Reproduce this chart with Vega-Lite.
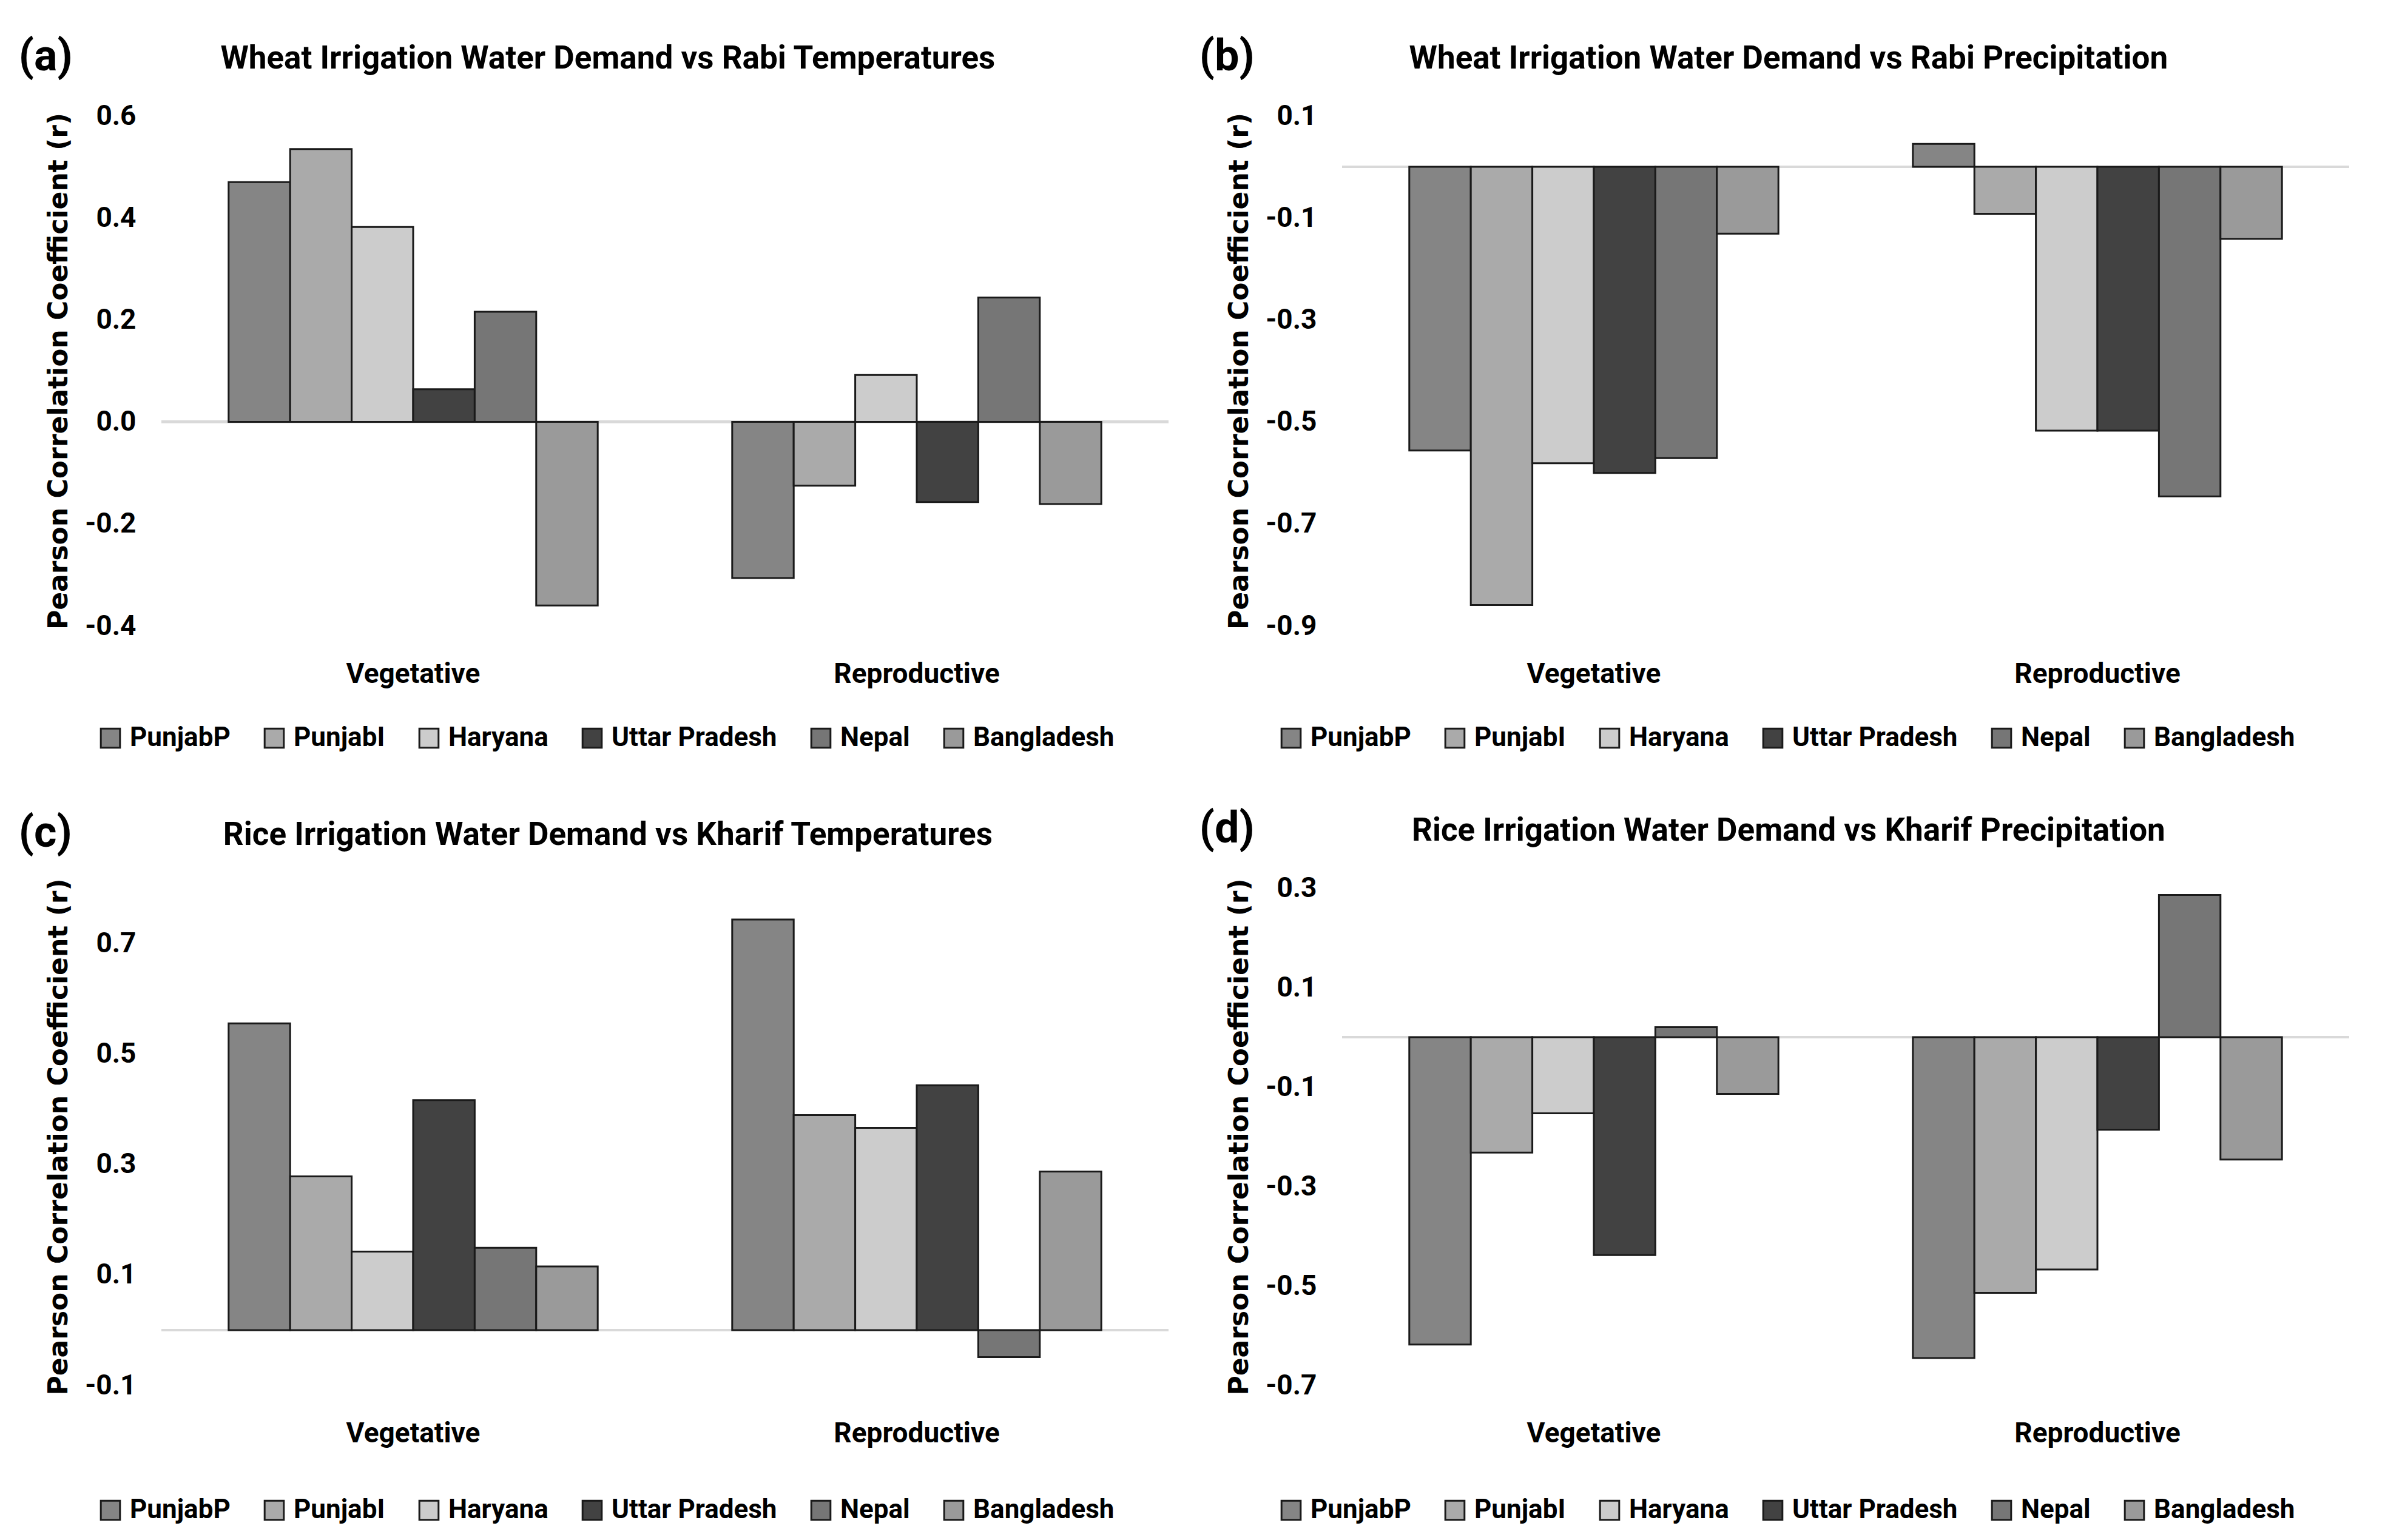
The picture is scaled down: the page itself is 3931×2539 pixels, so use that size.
{
  "$schema": "https://vega.github.io/schema/vega-lite/v6.json",
  "padding": {"left": 30, "top": 58, "right": 40, "bottom": 20},
  "background": "white",
  "data": {"values": [
    {"panel": "a", "stage": "Vegetative", "region": "PunjabP", "r": 0.47},
    {"panel": "a", "stage": "Vegetative", "region": "PunjabI", "r": 0.535},
    {"panel": "a", "stage": "Vegetative", "region": "Haryana", "r": 0.382},
    {"panel": "a", "stage": "Vegetative", "region": "Uttar Pradesh", "r": 0.064},
    {"panel": "a", "stage": "Vegetative", "region": "Nepal", "r": 0.216},
    {"panel": "a", "stage": "Vegetative", "region": "Bangladesh", "r": -0.36},
    {"panel": "a", "stage": "Reproductive", "region": "PunjabP", "r": -0.306},
    {"panel": "a", "stage": "Reproductive", "region": "PunjabI", "r": -0.125},
    {"panel": "a", "stage": "Reproductive", "region": "Haryana", "r": 0.092},
    {"panel": "a", "stage": "Reproductive", "region": "Uttar Pradesh", "r": -0.157},
    {"panel": "a", "stage": "Reproductive", "region": "Nepal", "r": 0.244},
    {"panel": "a", "stage": "Reproductive", "region": "Bangladesh", "r": -0.161},
    {"panel": "b", "stage": "Vegetative", "region": "PunjabP", "r": -0.556},
    {"panel": "b", "stage": "Vegetative", "region": "PunjabI", "r": -0.859},
    {"panel": "b", "stage": "Vegetative", "region": "Haryana", "r": -0.581},
    {"panel": "b", "stage": "Vegetative", "region": "Uttar Pradesh", "r": -0.6},
    {"panel": "b", "stage": "Vegetative", "region": "Nepal", "r": -0.571},
    {"panel": "b", "stage": "Vegetative", "region": "Bangladesh", "r": -0.131},
    {"panel": "b", "stage": "Reproductive", "region": "PunjabP", "r": 0.045},
    {"panel": "b", "stage": "Reproductive", "region": "PunjabI", "r": -0.092},
    {"panel": "b", "stage": "Reproductive", "region": "Haryana", "r": -0.517},
    {"panel": "b", "stage": "Reproductive", "region": "Uttar Pradesh", "r": -0.517},
    {"panel": "b", "stage": "Reproductive", "region": "Nepal", "r": -0.646},
    {"panel": "b", "stage": "Reproductive", "region": "Bangladesh", "r": -0.141},
    {"panel": "c", "stage": "Vegetative", "region": "PunjabP", "r": 0.555},
    {"panel": "c", "stage": "Vegetative", "region": "PunjabI", "r": 0.278},
    {"panel": "c", "stage": "Vegetative", "region": "Haryana", "r": 0.142},
    {"panel": "c", "stage": "Vegetative", "region": "Uttar Pradesh", "r": 0.416},
    {"panel": "c", "stage": "Vegetative", "region": "Nepal", "r": 0.149},
    {"panel": "c", "stage": "Vegetative", "region": "Bangladesh", "r": 0.115},
    {"panel": "c", "stage": "Reproductive", "region": "PunjabP", "r": 0.743},
    {"panel": "c", "stage": "Reproductive", "region": "PunjabI", "r": 0.389},
    {"panel": "c", "stage": "Reproductive", "region": "Haryana", "r": 0.366},
    {"panel": "c", "stage": "Reproductive", "region": "Uttar Pradesh", "r": 0.443},
    {"panel": "c", "stage": "Reproductive", "region": "Nepal", "r": -0.049},
    {"panel": "c", "stage": "Reproductive", "region": "Bangladesh", "r": 0.287},
    {"panel": "d", "stage": "Vegetative", "region": "PunjabP", "r": -0.618},
    {"panel": "d", "stage": "Vegetative", "region": "PunjabI", "r": -0.232},
    {"panel": "d", "stage": "Vegetative", "region": "Haryana", "r": -0.153},
    {"panel": "d", "stage": "Vegetative", "region": "Uttar Pradesh", "r": -0.438},
    {"panel": "d", "stage": "Vegetative", "region": "Nepal", "r": 0.02},
    {"panel": "d", "stage": "Vegetative", "region": "Bangladesh", "r": -0.114},
    {"panel": "d", "stage": "Reproductive", "region": "PunjabP", "r": -0.645},
    {"panel": "d", "stage": "Reproductive", "region": "PunjabI", "r": -0.514},
    {"panel": "d", "stage": "Reproductive", "region": "Haryana", "r": -0.467},
    {"panel": "d", "stage": "Reproductive", "region": "Uttar Pradesh", "r": -0.186},
    {"panel": "d", "stage": "Reproductive", "region": "Nepal", "r": 0.286},
    {"panel": "d", "stage": "Reproductive", "region": "Bangladesh", "r": -0.246}
  ]},
  "config": {
    "font": "Roboto",
    "view": {"stroke": null},
    "axis": {"labelFont": "Roboto", "labelFontWeight": "bold", "labelFontSize": 46, "labelColor": "#000000", "labelLimit": 0, "ticks": false, "domain": false, "titleColor": "#000000"},
    "axisY": {"gridColor": "#d9d9d9", "gridWidth": 4, "labelPadding": 42, "titleFont": "DejaVu Sans", "titleFontSize": 44, "titleFontWeight": "bold", "titlePadding": 20},
    "axisX": {"grid": false, "labelPadding": 57, "labelAngle": 0},
    "legend": {"orient": "none", "legendX": -106, "legendY": 1004, "direction": "horizontal", "title": null, "symbolType": "square", "symbolSize": 1000, "symbolStrokeColor": "#1a1a1a", "symbolStrokeWidth": 3, "symbolOpacity": 1, "labelFont": "Roboto", "labelFontWeight": "bold", "labelFontSize": 44, "labelColor": "#000000", "labelLimit": 0, "columnPadding": 50, "labelOffset": 10},
    "title": {"font": "Roboto", "fontWeight": "bold", "fontSize": 53, "color": "#000000"},
    "bar": {"stroke": "#1a1a1a", "strokeWidth": 3}
  },
  "columns": 2,
  "spacing": {"row": 92, "column": 48},
  "resolve": {"scale": {"fill": "independent", "y": "independent", "x": "independent"}, "legend": {"fill": "independent"}},
  "concat": [
    {
      "title": {"text": "(a)", "anchor": "start", "frame": "bounds", "fontSize": 72, "dy": 60, "dx": -45, "offset": 0},
      "resolve": {"scale": {"fill": "independent"}},
      "vconcat": [{
        "width": 1660, "height": 841,
        "title": {"text": "Wheat Irrigation Water Demand vs Rabi Temperatures", "anchor": "middle", "frame": "bounds", "offset": 44},
        "transform": [{"filter": "datum.panel === 'a'"}],
        "layer": [
          {"mark": {"type": "rule", "color": "#d9d9d9", "strokeWidth": 4}, "encoding": {"y": {"datum": 0, "type": "quantitative"}}},
          {"mark": {"type": "bar"},
           "encoding": {
             "x": {"field": "stage", "type": "nominal", "sort": ["Vegetative", "Reproductive"], "scale": {"paddingInner": 0.267, "paddingOuter": 0.1335}, "axis": {"title": null}},
             "xOffset": {"field": "region", "type": "nominal", "sort": ["PunjabP", "PunjabI", "Haryana", "Uttar Pradesh", "Nepal", "Bangladesh"], "scale": {"paddingInner": 0, "paddingOuter": 0}},
             "y": {"field": "r", "type": "quantitative", "scale": {"domain": [-0.4, 0.6], "nice": false, "zero": false}, "axis": {"values": [-0.4, -0.2, 0, 0.2, 0.4, 0.6], "labelExpr": "replace(format(datum.value, '.1f'), '\u2212', '-')", "title": "Pearson Correlation Coefficient (r)"}},
             "fill": {"field": "region", "type": "nominal", "scale": {"domain": ["PunjabP", "PunjabI", "Haryana", "Uttar Pradesh", "Nepal", "Bangladesh"], "range": ["#858585", "#aaaaaa", "#cccccc", "#424242", "#767676", "#9a9a9a"]}}
           }}
        ]
      }]
    },
    {
      "title": {"text": "(b)", "anchor": "start", "frame": "bounds", "fontSize": 72, "dy": 60, "dx": -45, "offset": 0},
      "resolve": {"scale": {"fill": "independent"}},
      "vconcat": [{
        "width": 1660, "height": 841,
        "title": {"text": "Wheat Irrigation Water Demand vs Rabi Precipitation", "anchor": "middle", "frame": "bounds", "offset": 44},
        "transform": [{"filter": "datum.panel === 'b'"}],
        "layer": [
          {"mark": {"type": "rule", "color": "#d9d9d9", "strokeWidth": 4}, "encoding": {"y": {"datum": 0, "type": "quantitative"}}},
          {"mark": {"type": "bar"},
           "encoding": {
             "x": {"field": "stage", "type": "nominal", "sort": ["Vegetative", "Reproductive"], "scale": {"paddingInner": 0.267, "paddingOuter": 0.1335}, "axis": {"title": null}},
             "xOffset": {"field": "region", "type": "nominal", "sort": ["PunjabP", "PunjabI", "Haryana", "Uttar Pradesh", "Nepal", "Bangladesh"], "scale": {"paddingInner": 0, "paddingOuter": 0}},
             "y": {"field": "r", "type": "quantitative", "scale": {"domain": [-0.9, 0.1], "nice": false, "zero": false}, "axis": {"values": [-0.9, -0.7, -0.5, -0.3, -0.1, 0.1], "labelExpr": "replace(format(datum.value, '.1f'), '\u2212', '-')", "title": "Pearson Correlation Coefficient (r)"}},
             "fill": {"field": "region", "type": "nominal", "scale": {"domain": ["PunjabP", "PunjabI", "Haryana", "Uttar Pradesh", "Nepal", "Bangladesh"], "range": ["#858585", "#aaaaaa", "#cccccc", "#424242", "#767676", "#9a9a9a"]}}
           }}
        ]
      }]
    },
    {
      "title": {"text": "(c)", "anchor": "start", "frame": "bounds", "fontSize": 72, "dy": 60, "dx": -45, "offset": 0},
      "resolve": {"scale": {"fill": "independent"}},
      "vconcat": [{
        "width": 1660, "height": 820,
        "title": {"text": "Rice Irrigation Water Demand vs Kharif Temperatures", "anchor": "middle", "frame": "bounds", "offset": 44},
        "transform": [{"filter": "datum.panel === 'c'"}],
        "layer": [
          {"mark": {"type": "rule", "color": "#d9d9d9", "strokeWidth": 4}, "encoding": {"y": {"datum": 0, "type": "quantitative"}}},
          {"mark": {"type": "bar"},
           "encoding": {
             "x": {"field": "stage", "type": "nominal", "sort": ["Vegetative", "Reproductive"], "scale": {"paddingInner": 0.267, "paddingOuter": 0.1335}, "axis": {"title": null}},
             "xOffset": {"field": "region", "type": "nominal", "sort": ["PunjabP", "PunjabI", "Haryana", "Uttar Pradesh", "Nepal", "Bangladesh"], "scale": {"paddingInner": 0, "paddingOuter": 0}},
             "y": {"field": "r", "type": "quantitative", "scale": {"domain": [-0.1, 0.8], "nice": false, "zero": false}, "axis": {"values": [-0.1, 0.1, 0.3, 0.5, 0.7], "labelExpr": "replace(format(datum.value, '.1f'), '\u2212', '-')", "title": "Pearson Correlation Coefficient (r)"}},
             "fill": {"field": "region", "type": "nominal", "scale": {"domain": ["PunjabP", "PunjabI", "Haryana", "Uttar Pradesh", "Nepal", "Bangladesh"], "range": ["#858585", "#aaaaaa", "#cccccc", "#424242", "#767676", "#9a9a9a"]}}
           }}
        ]
      }]
    },
    {
      "title": {"text": "(d)", "anchor": "start", "frame": "bounds", "fontSize": 72, "dy": 60, "dx": -45, "offset": 0},
      "resolve": {"scale": {"fill": "independent"}},
      "vconcat": [{
        "width": 1660, "height": 820,
        "title": {"text": "Rice Irrigation Water Demand vs Kharif Precipitation", "anchor": "middle", "frame": "bounds", "offset": 44},
        "transform": [{"filter": "datum.panel === 'd'"}],
        "layer": [
          {"mark": {"type": "rule", "color": "#d9d9d9", "strokeWidth": 4}, "encoding": {"y": {"datum": 0, "type": "quantitative"}}},
          {"mark": {"type": "bar"},
           "encoding": {
             "x": {"field": "stage", "type": "nominal", "sort": ["Vegetative", "Reproductive"], "scale": {"paddingInner": 0.267, "paddingOuter": 0.1335}, "axis": {"title": null}},
             "xOffset": {"field": "region", "type": "nominal", "sort": ["PunjabP", "PunjabI", "Haryana", "Uttar Pradesh", "Nepal", "Bangladesh"], "scale": {"paddingInner": 0, "paddingOuter": 0}},
             "y": {"field": "r", "type": "quantitative", "scale": {"domain": [-0.7, 0.3], "nice": false, "zero": false}, "axis": {"values": [-0.7, -0.5, -0.3, -0.1, 0.1, 0.3], "labelExpr": "replace(format(datum.value, '.1f'), '\u2212', '-')", "title": "Pearson Correlation Coefficient (r)"}},
             "fill": {"field": "region", "type": "nominal", "scale": {"domain": ["PunjabP", "PunjabI", "Haryana", "Uttar Pradesh", "Nepal", "Bangladesh"], "range": ["#858585", "#aaaaaa", "#cccccc", "#424242", "#767676", "#9a9a9a"]}}
           }}
        ]
      }]
    }
  ]
}
